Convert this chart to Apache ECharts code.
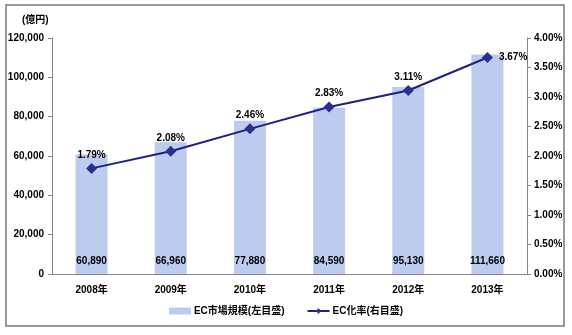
<!DOCTYPE html>
<html><head><meta charset="utf-8">
<script src="https://cdn.jsdelivr.net/npm/echarts@6/dist/echarts.min.js"></script>
<style>html,body{margin:0;padding:0;background:#fff}#c{width:572px;height:335px}</style>
</head><body><div id="c"></div>
<script>
const categories = ['2008年','2009年','2010年','2011年','2012年','2013年'];
const marketSize = [60890, 66960, 77880, 84590, 95130, 111660];
const ecRate = [1.79, 2.08, 2.46, 2.83, 3.11, 3.67];
const leftTicks = [0, 20000, 40000, 60000, 80000, 100000, 120000];
const rightTicks = [0, 0.5, 1, 1.5, 2, 2.5, 3, 3.5, 4];
const seriesNames = ['EC市場規模(左目盛)', 'EC化率(右目盛)'];

const FF = "'Liberation Sans','Noto Sans CJK JP',sans-serif";
const txt = {fontFamily: FF, fontWeight: 'bold', fontSize: 10, color: '#000'};
const axisLineStyle = {color: '#868686', width: 1};
const chart = echarts.init(document.getElementById('c'));
chart.setOption({
  animation: false,
  textStyle: {fontFamily: FF},
  graphic: [{
    type: 'rect', shape: {x: 6, y: 5, width: 558, height: 321},
    style: {fill: 'none', stroke: '#7a7a7a', lineWidth: 1.5}
  }, {
    type: 'text', x: 22, y: 20,
    style: {text: '(億円)', font: "bold 10px 'Liberation Sans','Noto Sans CJK JP',sans-serif",
      fill: '#000', textVerticalAlign: 'middle', verticalAlign: 'middle'}
  }],
  grid: {left: 52, right: 45, top: 38, bottom: 61, containLabel: false},
  legend: {
    bottom: 14, left: 'center', itemGap: 22, itemWidth: 22, itemHeight: 7,
    textStyle: Object.assign({}, txt, {padding: [0, 0, 0, -2]}),
    data: [{name: seriesNames[0], icon: 'rect'}, {name: seriesNames[1]}]
  },
  xAxis: {
    type: 'category', data: categories,
    axisLine: {lineStyle: axisLineStyle},
    axisTick: {lineStyle: axisLineStyle, length: 4},
    axisLabel: Object.assign({}, txt, {margin: 11})
  },
  yAxis: [{
    type: 'value', min: leftTicks[0], max: leftTicks[leftTicks.length - 1], interval: leftTicks[1] - leftTicks[0],
    splitLine: {show: false},
    axisLine: {show: true, lineStyle: axisLineStyle},
    axisTick: {show: true, length: 4, lineStyle: axisLineStyle},
    axisLabel: Object.assign({}, txt, {margin: 8, formatter: v => v.toLocaleString('en-US')})
  }, {
    type: 'value', min: rightTicks[0], max: rightTicks[rightTicks.length - 1], interval: rightTicks[1] - rightTicks[0],
    splitLine: {show: false},
    axisLine: {show: true, lineStyle: axisLineStyle},
    axisTick: {show: true, length: 4, lineStyle: axisLineStyle},
    axisLabel: Object.assign({}, txt, {margin: 7, formatter: v => v.toFixed(2) + '%'})
  }],
  series: [{
    name: seriesNames[0], type: 'bar', data: marketSize, barWidth: 32,
    itemStyle: {color: '#bccbee'},
    label: Object.assign({show: true, position: 'insideBottom', distance: 8,
      formatter: p => p.value.toLocaleString('en-US')}, txt)
  }, {
    name: seriesNames[1], type: 'line', yAxisIndex: 1,
    data: ecRate.map((v, i) => i === ecRate.length - 1
      ? {value: v, label: {position: 'right', distance: 6}} : v),
    symbol: 'diamond', symbolSize: 11,
    lineStyle: {color: '#1f1f86', width: 2},
    itemStyle: {color: '#2b2f8e'},
    label: Object.assign({show: true, position: 'top', distance: 3,
      formatter: p => p.value.toFixed(2) + '%'}, txt)
  }]
});
</script></body></html>
